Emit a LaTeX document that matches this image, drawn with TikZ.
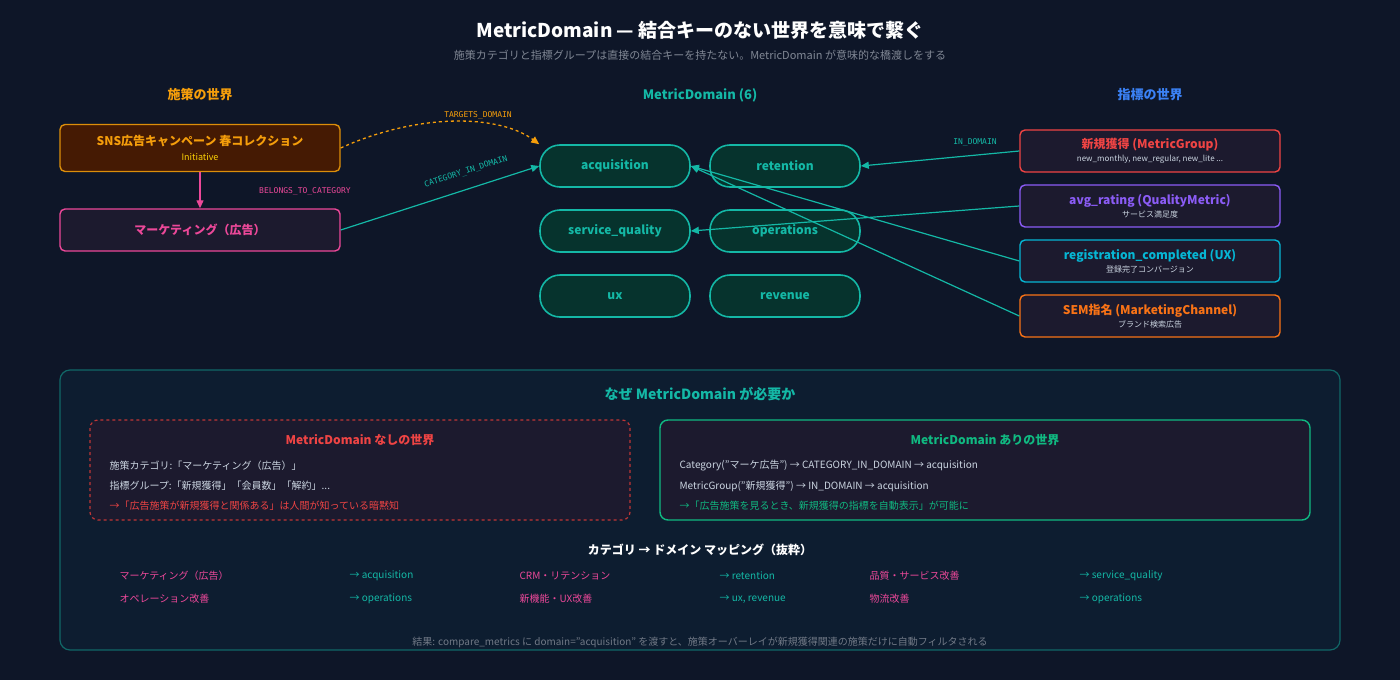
\documentclass[tikz,border=0pt]{standalone}
\usepackage{fontspec}
\setmainfont{Noto Sans CJK JP}
\newfontfamily\monof{DejaVu Sans Mono}
\usetikzlibrary{arrows.meta}
\definecolor{bg}{HTML}{0E1628}
\definecolor{teal}{HTML}{14B8A6}
\definecolor{dteal}{HTML}{06332D}
\definecolor{orn}{HTML}{F59E0B}
\definecolor{pnk}{HTML}{EC4899}
\definecolor{rd}{HTML}{EF4444}
\definecolor{prp}{HTML}{8B5CF6}
\definecolor{cyn}{HTML}{06B6D4}
\definecolor{org}{HTML}{F97316}
\definecolor{grn}{HTML}{10B981}
\definecolor{boxbg}{HTML}{1C1A2E}
\definecolor{panel}{HTML}{0D1D30}
\definecolor{inibg}{HTML}{451A03}
\definecolor{blu}{HTML}{3B82F6}
\definecolor{gry}{HTML}{9CA3AF}
\definecolor{lgry}{HTML}{CBD5E1}
\begin{document}
\begin{tikzpicture}[x=1pt,y=-1pt,
  dom/.style={draw=teal,line width=1.6pt,fill=dteal,rounded corners=20pt,minimum width=150pt,minimum height=42pt,text=teal,font=\bfseries\fontsize{12}{14}\selectfont},
  mbox/.style={line width=1.4pt,fill=boxbg,rounded corners=5pt,minimum width=260pt,minimum height=42pt,align=center},
  lbl/.style={font=\monof\fontsize{8}{10}\selectfont},
  ed/.style={teal,line width=1.2pt,-{Triangle[length=8pt,width=7pt]}},
  t/.style={anchor=west,font=\fontsize{10}{12}\selectfont}]
\fill[bg] (0,0) rectangle (1400,680);
\node[text=white,font=\bfseries\fontsize{19}{22}\selectfont] (title) at (700,30) {MetricDomain — 結合キーのない世界を意味で繋ぐ};
\node[text=gry!80!bg,font=\fontsize{11}{13}\selectfont] (sub) at (700,55) {施策カテゴリと指標グループは直接の結合キーを持たない。MetricDomain が意味的な橋渡しをする};
\node[text=orn,font=\bfseries\fontsize{13}{15}\selectfont] (h1) at (200,95) {施策の世界};
\node[text=teal,font=\bfseries\fontsize{13}{15}\selectfont] (h2) at (700,95) {MetricDomain (6)};
\node[text=blu,font=\bfseries\fontsize{13}{15}\selectfont] (h3) at (1150,95) {指標の世界};

\node[draw=orn!90!black,line width=1.4pt,fill=inibg,rounded corners=5pt,minimum width=280pt,minimum height=47pt,align=center] (ini) at (200,148)
 {{\color{orn}\bfseries\fontsize{12}{14}\selectfont SNS広告キャンペーン 春コレクション}\\[3pt]{\color{yellow!70!orange}\fontsize{9}{11}\selectfont Initiative}};
\node[draw=pnk,line width=1.4pt,fill=boxbg,rounded corners=5pt,minimum width=280pt,minimum height=42pt,text=pnk,font=\bfseries\fontsize{12}{14}\selectfont] (mkt) at (200,230) {マーケティング（広告）};

\node[dom] (acq) at (615,166) {acquisition};
\node[dom] (ret) at (785,166) {retention};
\node[dom] (sq) at (615,231) {service\_quality};
\node[dom] (ops) at (785,231) {operations};
\node[dom] (ux) at (615,296) {ux};
\node[dom] (rev) at (785,296) {revenue};

\node[mbox,draw=rd] (mg) at (1150,151) {{\color{rd}\bfseries\fontsize{12}{14}\selectfont 新規獲得 (MetricGroup)}\\[1pt]{\color{lgry}\fontsize{8}{10}\selectfont new\_monthly, new\_regular, new\_lite ...}};
\node[mbox,draw=prp] (ar) at (1150,206) {{\color{prp}\bfseries\fontsize{12}{14}\selectfont avg\_rating (QualityMetric)}\\[1pt]{\color{lgry}\fontsize{8}{10}\selectfont サービス満足度}};
\node[mbox,draw=cyn] (rc) at (1150,261) {{\color{cyn}\bfseries\fontsize{12}{14}\selectfont registration\_completed (UX)}\\[1pt]{\color{lgry}\fontsize{8}{10}\selectfont 登録完了コンバージョン}};
\node[mbox,draw=org] (sem) at (1150,316) {{\color{org}\bfseries\fontsize{12}{14}\selectfont SEM指名 (MarketingChannel)}\\[1pt]{\color{lgry}\fontsize{8}{10}\selectfont ブランド検索広告}};

\draw[orn,line width=1.3pt,dashed,-{Triangle[length=8pt,width=7pt]}] (ini.east) .. controls (420,112) and (500,115) .. (acq.north west);
\node[lbl,text=orn] (l1) at (478,115) {TARGETS\_DOMAIN};
\draw[pnk,line width=1.3pt,-{Triangle[length=8pt,width=7pt]}] (ini.south) -- (mkt.north);
\node[lbl,text=pnk] (l2) at (305,191) {BELONGS\_TO\_CATEGORY};
\draw[ed] (mkt.east) -- (acq.west);
\node[lbl,text=teal,rotate=18] (l3) at (466,172) {CATEGORY\_IN\_DOMAIN};
\draw[ed] (mg.west) -- (ret.east);
\node[lbl,text=teal] (l4) at (975,142) {IN\_DOMAIN};
\draw[ed] (ar.west) -- (sq.east);
\draw[ed] (rc.west) -- (acq.east);
\draw[ed] (sem.west) -- (acq.east);

\draw[draw=teal!50!bg,line width=1.2pt,fill=panel,rounded corners=10pt] (60,370) rectangle (1340,650);
\node[text=teal,font=\bfseries\fontsize{14}{16}\selectfont] (wt) at (700,394) {なぜ MetricDomain が必要か};
\draw[rd!80!black,line width=1.2pt,dashed,fill=boxbg,rounded corners=8pt] (90,420) rectangle (630,520);
\node[text=rd,font=\bfseries\fontsize{12}{14}\selectfont] (lt) at (360,440) {MetricDomain なしの世界};
\node[t,text=lgry] (la) at (106,466) {施策カテゴリ:「マーケティング（広告）」};
\node[t,text=lgry] (lb) at (106,486) {指標グループ:「新規獲得」「会員数」「解約」...};
\node[t,text=rd] (lc) at (106,506) {→「広告施策が新規獲得と関係ある」は人間が知っている暗黙知};
\draw[grn,line width=1.4pt,fill=boxbg,rounded corners=8pt] (660,420) rectangle (1310,520);
\node[text=grn,font=\bfseries\fontsize{12}{14}\selectfont] (rt) at (985,440) {MetricDomain ありの世界};
\node[t,text=lgry] (ra) at (676,466) {Category("マーケ広告") → CATEGORY\_IN\_DOMAIN → acquisition};
\node[t,text=lgry] (rb) at (676,486) {MetricGroup("新規獲得") → IN\_DOMAIN → acquisition};
\node[t,text=grn] (rc2) at (676,506) {→「広告施策を見るとき、新規獲得の指標を自動表示」が可能に};

\node[text=white,font=\bfseries\fontsize{12}{14}\selectfont] (mt) at (700,550) {カテゴリ → ドメイン マッピング（抜粋）};
\node[t,text=pnk] (m1) at (116,576) {マーケティング（広告）};
\node[t,text=teal] (m2) at (346,576) {→ acquisition};
\node[t,text=pnk] (m3) at (516,576) {CRM・リテンション};
\node[t,text=teal] (m4) at (716,576) {→ retention};
\node[t,text=pnk] (m5) at (866,576) {品質・サービス改善};
\node[t,text=teal] (m6) at (1076,576) {→ service\_quality};
\node[t,text=pnk] (n1) at (116,599) {オペレーション改善};
\node[t,text=teal] (n2) at (346,599) {→ operations};
\node[t,text=pnk] (n3) at (516,599) {新機能・UX改善};
\node[t,text=teal] (n4) at (716,599) {→ ux, revenue};
\node[t,text=pnk] (n5) at (866,599) {物流改善};
\node[t,text=teal] (n6) at (1076,599) {→ operations};
\node[text=gry!70!bg,font=\fontsize{10}{12}\selectfont] (ft) at (700,642) {結果: compare\_metrics に domain="acquisition" を渡すと、施策オーバーレイが新規獲得関連の施策だけに自動フィルタされる};
\end{tikzpicture}
\end{document}
